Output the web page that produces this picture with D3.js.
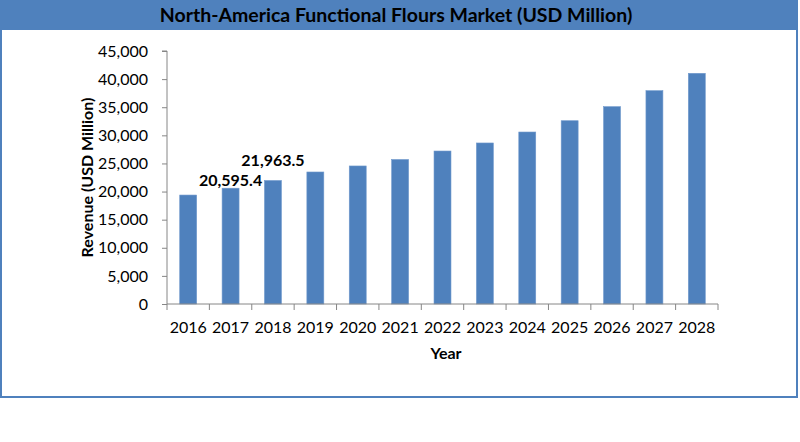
<!DOCTYPE html>
<html>
<head>
<meta charset="utf-8">
<script src="https://cdn.jsdelivr.net/npm/d3@7"></script>
<style>
  body { margin: 0; background: #ffffff; }
  text { font-family: Lato, "Open Sans", sans-serif; fill: #000; }
</style>
</head>
<body>
<div id="chart"></div>
<script>
// datos
const years = ["2016", "2017", "2018", "2019", "2020", "2021", "2022", "2023", "2024", "2025", "2026", "2027", "2028"];
const revenue = [19380, 20595.4, 21963.5, 23480, 24550, 25700, 27210, 28640, 30590, 32600, 35100, 37940, 41030];
const yTicks = [0, 5000, 10000, 15000, 20000, 25000, 30000, 35000, 40000, 45000];
const labelYears = ["2017", "2018"];

const W = 800, H = 442;
const azul = "#4F81BD";

const svg = d3.select("#chart").append("svg")
    .attr("width", W)
    .attr("height", H);

// marco y banda del titulo
svg.append("rect")
    .attr("x", 1).attr("y", 1)
    .attr("width", 796).attr("height", 396)
    .attr("fill", "#fff")
    .attr("stroke", azul)
    .attr("stroke-width", 2);

svg.append("rect")
    .attr("x", 0).attr("y", 0)
    .attr("width", 798).attr("height", 30)
    .attr("fill", azul);

svg.append("text")
    .attr("x", 396).attr("y", 22)
    .attr("text-anchor", "middle")
    .attr("font-size", 19.5)
    .attr("font-weight", "bold")
    .text("North-America Functional Flours Market (USD Million)");

const pLeft = 167, pRight = 718, pTop = 51, pBottom = 304;

const x = d3.scaleBand()
    .domain(years)
    .range([pLeft, pRight])
    .paddingInner(0.6)
    .paddingOuter(0.3);

const y = d3.scaleLinear()
    .domain([0, 45000])
    .range([pBottom, pTop]);

// barras
svg.append("g").selectAll("rect")
    .data(revenue)
    .join("rect")
    .attr("x", (d, i) => x(years[i]))
    .attr("y", d => y(d))
    .attr("width", x.bandwidth())
    .attr("height", d => pBottom - y(d))
    .attr("fill", azul)
    .attr("stroke", "#6f98cc")
    .attr("stroke-width", 0.6);

// eje y
const yAxis = svg.append("g")
    .attr("transform", `translate(${pLeft},0)`)
    .call(d3.axisLeft(y).tickValues(yTicks).tickSize(5).tickPadding(14)
        .tickFormat(d3.format(",")));
yAxis.selectAll("line, path").attr("stroke", "#868686");
yAxis.select(".domain").attr("d", `M-5,${pTop}H0V${pBottom}`);
yAxis.selectAll("text").attr("font-size", 16).attr("font-family", "Lato, sans-serif");

// eje x con marcas entre categorias
const xAxis = svg.append("g");
xAxis.append("line")
    .attr("x1", pLeft).attr("x2", pRight)
    .attr("y1", pBottom).attr("y2", pBottom)
    .attr("stroke", "#868686");
xAxis.selectAll(".tk")
    .data(d3.range(years.length + 1))
    .join("line")
    .attr("class", "tk")
    .attr("x1", i => pLeft + i * (pRight - pLeft) / years.length)
    .attr("x2", i => pLeft + i * (pRight - pLeft) / years.length)
    .attr("y1", pBottom).attr("y2", pBottom + 6)
    .attr("stroke", "#868686");
xAxis.selectAll(".lbl")
    .data(years)
    .join("text")
    .attr("class", "lbl")
    .attr("x", d => x(d) + x.bandwidth() / 2)
    .attr("y", 333)
    .attr("text-anchor", "middle")
    .attr("font-size", 16)
    .text(d => d);

// titulos de ejes
svg.append("text")
    .attr("x", 446).attr("y", 359)
    .attr("text-anchor", "middle")
    .attr("font-size", 16)
    .attr("font-weight", "bold")
    .text("Year");

svg.append("text")
    .attr("transform", `translate(93,${(pTop + pBottom) / 2}) rotate(-90)`)
    .attr("text-anchor", "middle")
    .attr("font-size", 16)
    .attr("font-weight", "bold")
    .text("Revenue (USD Million)");

// etiquetas de datos
const offsets = { "2017": 8, "2018": 21 };
svg.append("g").selectAll("text")
    .data(labelYears)
    .join("text")
    .attr("x", d => x(d) + x.bandwidth() / 2)
    .attr("y", d => y(revenue[years.indexOf(d)]) - offsets[d] + 6)
    .attr("text-anchor", "middle")
    .attr("font-size", 16)
    .attr("font-weight", "bold")
    .text(d => d3.format(",.1f")(revenue[years.indexOf(d)]));
</script>
</body>
</html>
